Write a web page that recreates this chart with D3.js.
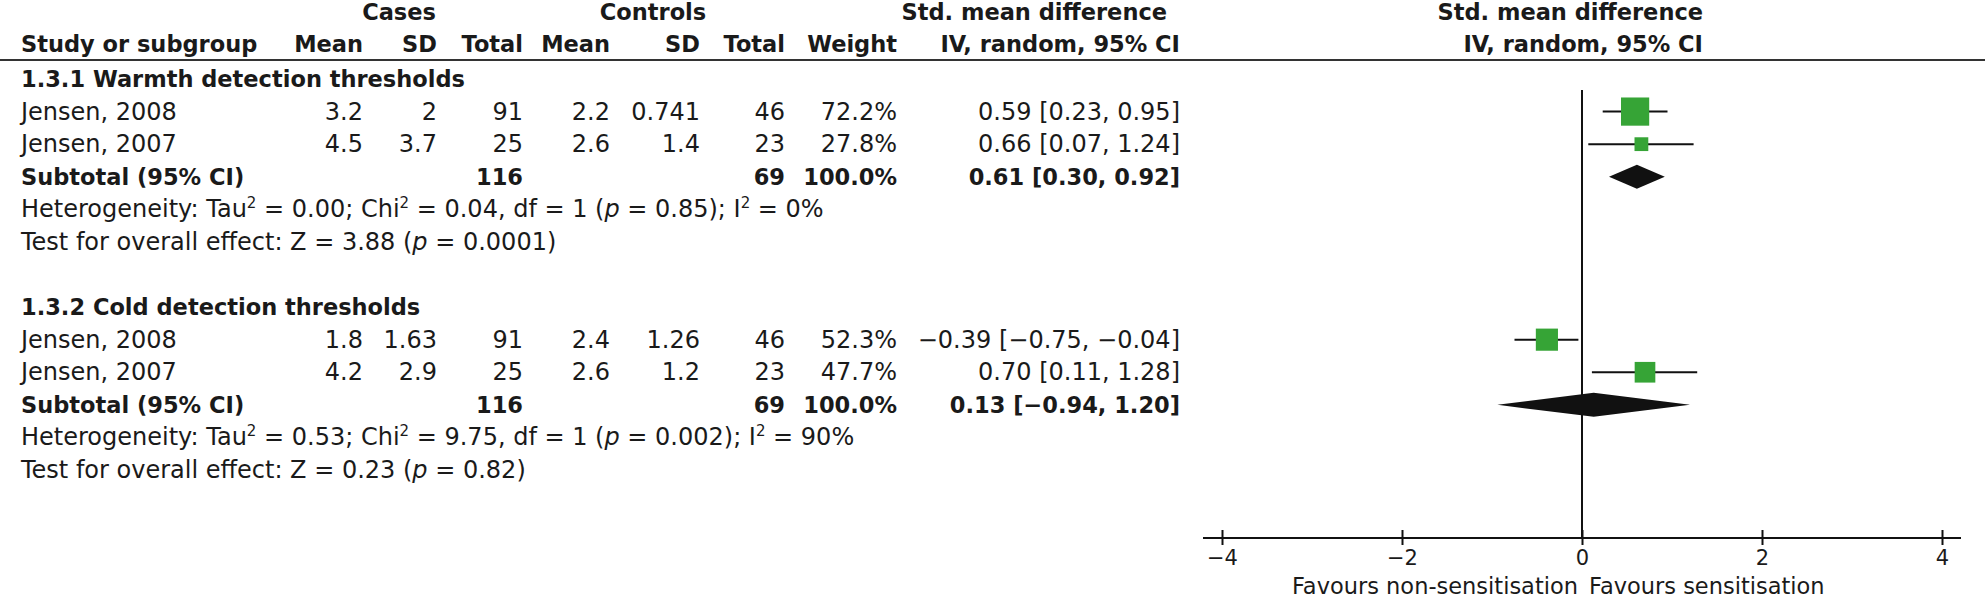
<!DOCTYPE html>
<html><head><meta charset="utf-8">
<script src="https://cdn.jsdelivr.net/npm/d3@7"></script>
<style>
html,body{margin:0;padding:0;background:#fff;}
svg text{font-family:"DejaVu Sans",sans-serif;fill:#1a1a1a;}
</style></head>
<body>
<svg id="chart" width="1985" height="600"></svg>
<script>
// ---------- data ----------
const subgroups = ["1.3.1 Warmth detection thresholds", "1.3.2 Cold detection thresholds"];
const studyNames = ["Jensen, 2008", "Jensen, 2007", "Jensen, 2008", "Jensen, 2007"];
const studyGroup = [0, 0, 1, 1];
const caseMean = [3.2, 4.5, 1.8, 4.2];
const caseSD = [2, 3.7, 1.63, 2.9];
const caseTotal = [91, 25, 91, 25];
const ctrlMean = [2.2, 2.6, 2.4, 2.6];
const ctrlSD = [0.741, 1.4, 1.26, 1.2];
const ctrlTotal = [46, 23, 46, 23];
const weight = [72.2, 27.8, 52.3, 47.7];
const smd = [0.59, 0.66, -0.39, 0.70];
const smdLow = [0.23, 0.07, -0.75, 0.11];
const smdHigh = [0.95, 1.24, -0.04, 1.28];
const subCaseTotal = [116, 116];
const subCtrlTotal = [69, 69];
const subWeight = [100.0, 100.0];
const subSmd = [0.61, 0.13];
const subLow = [0.30, -0.94];
const subHigh = [0.92, 1.20];
const hetTau2 = ["0.00", "0.53"];
const hetChi2 = ["0.04", "9.75"];
const hetDf = [1, 1];
const hetP = ["0.85", "0.002"];
const hetI2 = ["0%", "90%"];
const testZ = ["3.88", "0.23"];
const testP = ["0.0001", "0.82"];
const axisTicks = [-4, -2, 0, 2, 4];
const favourLeft = "Favours non-sensitisation";
const favourRight = "Favours sensitisation";

// ---------- layout ----------
const svg = d3.select("#chart");
const REG = 24, BOLD = 22.5;
const x = d3.scaleLinear().domain([-4, 4]).range([1222, 1942]);
const rowY = d3.scaleLinear().domain([0, 12]).range([79, 470]);
const col = {cMean: 363, cSD: 437, cTot: 523, kMean: 610, kSD: 700, kTot: 785, wt: 897, ci: 1180};
const green = "#36a436";
const fmtNum = v => String(v).replace("-", "\u2212");
const fmt2 = v => v.toFixed(2).replace("-", "\u2212");
const ciText = (e, l, h) => `${fmt2(e)} [${fmt2(l)}, ${fmt2(h)}]`;

function txt(xp, yp, s, opt = {}) {
  return svg.append("text").attr("x", xp).attr("y", yp)
    .attr("text-anchor", opt.anchor || "start")
    .attr("font-size", opt.size || (opt.bold ? BOLD : REG))
    .attr("font-weight", opt.bold ? "bold" : "normal")
    .text(s);
}

// headers
txt(399, 20, "Cases", {bold: 1, anchor: "middle"});
txt(653, 20, "Controls", {bold: 1, anchor: "middle"});
txt(1167, 20, "Std. mean difference", {bold: 1, anchor: "end"});
txt(1703, 20, "Std. mean difference", {bold: 1, anchor: "end"});
txt(21, 52, "Study or subgroup", {bold: 1});
[["Mean", col.cMean], ["SD", col.cSD], ["Total", col.cTot], ["Mean", col.kMean], ["SD", col.kSD], ["Total", col.kTot], ["Weight", col.wt], ["IV, random, 95% CI", col.ci]]
  .forEach(([s, xx]) => txt(xx, 52, s, {bold: 1, anchor: "end"}));
txt(1703, 52, "IV, random, 95% CI", {bold: 1, anchor: "end"});
svg.append("line").attr("x1", 0).attr("x2", 1985).attr("y1", 60).attr("y2", 60)
  .attr("stroke", "#333").attr("stroke-width", 2);

// null line
const axisY = 538;
svg.append("line").attr("x1", x(0)).attr("x2", x(0)).attr("y1", 90).attr("y2", axisY)
  .attr("stroke", "#111").attr("stroke-width", 2);

const base = 8; // baseline offset from row centre
subgroups.forEach((name, g) => {
  const r0 = g * 7;
  txt(21, rowY(r0) + base, name, {bold: 1});
  const idx = studyGroup.map((gg, i) => gg === g ? i : -1).filter(i => i >= 0);
  idx.forEach((i, k) => {
    const yy = rowY(r0 + 1 + k);
    txt(21, yy + base, studyNames[i]);
    txt(col.cMean, yy + base, fmtNum(caseMean[i]), {anchor: "end"});
    txt(col.cSD, yy + base, fmtNum(caseSD[i]), {anchor: "end"});
    txt(col.cTot, yy + base, fmtNum(caseTotal[i]), {anchor: "end"});
    txt(col.kMean, yy + base, fmtNum(ctrlMean[i]), {anchor: "end"});
    txt(col.kSD, yy + base, fmtNum(ctrlSD[i]), {anchor: "end"});
    txt(col.kTot, yy + base, fmtNum(ctrlTotal[i]), {anchor: "end"});
    txt(col.wt, yy + base, weight[i].toFixed(1) + "%", {anchor: "end"});
    txt(col.ci, yy + base, ciText(smd[i], smdLow[i], smdHigh[i]), {anchor: "end"});
  });
  const ys = rowY(r0 + 3);
  txt(21, ys + base, "Subtotal (95% CI)", {bold: 1});
  txt(col.cTot, ys + base, subCaseTotal[g], {bold: 1, anchor: "end"});
  txt(col.kTot, ys + base, subCtrlTotal[g], {bold: 1, anchor: "end"});
  txt(col.wt, ys + base, subWeight[g].toFixed(1) + "%", {bold: 1, anchor: "end"});
  txt(col.ci, ys + base, ciText(subSmd[g], subLow[g], subHigh[g]), {bold: 1, anchor: "end"});

  // heterogeneity line
  const het = txt(21, rowY(r0 + 4) + base, "");
  const sup = s => het.append("tspan").attr("font-size", 15).attr("dy", -9).text(s);
  const down = s => het.append("tspan").attr("dy", 9).text(s);
  het.append("tspan").text("Heterogeneity: Tau");
  sup("2"); down(` = ${hetTau2[g]}; Chi`);
  sup("2"); down(` = ${hetChi2[g]}, df = ${hetDf[g]} (`);
  het.append("tspan").attr("font-style", "italic").text("p");
  het.append("tspan").text(` = ${hetP[g]}); I`);
  sup("2"); down(` = ${hetI2[g]}`);

  const tst = txt(21, rowY(r0 + 5) + base, "");
  tst.append("tspan").text(`Test for overall effect: Z = ${testZ[g]} (`);
  tst.append("tspan").attr("font-style", "italic").text("p");
  tst.append("tspan").text(` = ${testP[g]})`);
});

// study marks
const size = d3.scalePow().exponent(0.75).domain([0, 100]).range([0, 36]);
const studyRow = studyNames.map((_, i) => {
  const g = studyGroup[i];
  const k = studyGroup.slice(0, i).filter(v => v === g).length;
  return rowY(g * 7 + 1 + k);
});
svg.selectAll("line.ci").data(smd).join("line").attr("class", "ci")
  .attr("x1", (d, i) => x(smdLow[i])).attr("x2", (d, i) => x(smdHigh[i]))
  .attr("y1", (d, i) => studyRow[i]).attr("y2", (d, i) => studyRow[i])
  .attr("stroke", "#111").attr("stroke-width", 2);
svg.selectAll("rect.sq").data(smd).join("rect").attr("class", "sq")
  .attr("x", (d, i) => x(d) - size(weight[i]) / 2)
  .attr("y", (d, i) => studyRow[i] - size(weight[i]) / 2)
  .attr("width", (d, i) => size(weight[i])).attr("height", (d, i) => size(weight[i]))
  .attr("fill", green);

// diamonds
svg.selectAll("path.dia").data(subSmd).join("path").attr("class", "dia")
  .attr("d", (d, g) => {
    const yc = rowY(g * 7 + 3), h = 12;
    return `M${x(subLow[g])},${yc}L${x(d)},${yc - h}L${x(subHigh[g])},${yc}L${x(d)},${yc + h}Z`;
  })
  .attr("fill", "#111");

// axis
svg.append("line").attr("x1", x(-4) - 19).attr("x2", x(4) + 19).attr("y1", axisY).attr("y2", axisY)
  .attr("stroke", "#111").attr("stroke-width", 2);
const ax = svg.append("g").attr("transform", `translate(0,${axisY})`)
  .call(d3.axisBottom(x).tickValues(axisTicks).tickSizeInner(7).tickSizeOuter(0)
    .tickFormat(d => fmtNum(d)));
ax.select(".domain").remove();
ax.selectAll(".tick line").attr("y1", -8).attr("y2", 7).attr("stroke", "#111").attr("stroke-width", 2);
ax.selectAll(".tick text").attr("font-size", 21).attr("font-family", "DejaVu Sans")
  .attr("fill", "#1a1a1a").attr("y", 12);

txt(x(0) - 4, 594, favourLeft, {anchor: "end", size: 22.5});
txt(x(0) + 7, 594, favourRight, {size: 22.5});
</script>
</body></html>
